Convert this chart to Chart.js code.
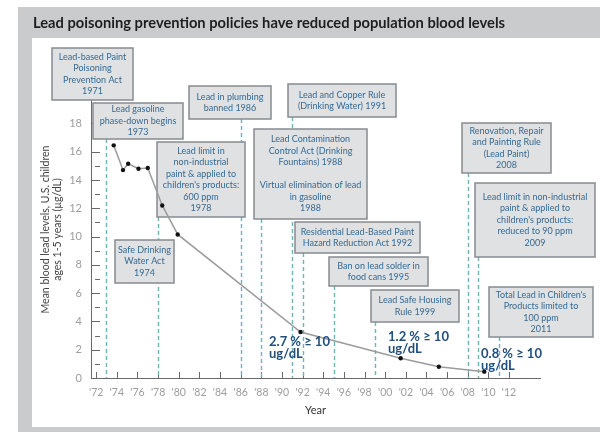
<!DOCTYPE html>
<html>
<head>
<meta charset="utf-8">
<script src="https://cdn.jsdelivr.net/npm/chart.js@4.4.0/dist/chart.umd.min.js"></script>
<style>
  html, body { margin: 0; padding: 0; background: #fff; }
  #wrap { width: 600px; height: 432px; }
</style>
</head>
<body>
<div id="wrap"><canvas id="leadChart" width="600" height="432"></canvas></div>
<script>
// Mean blood lead level of U.S. children (ug/dL)
const surveyYears = [1973.7, 1974.6, 1975.1, 1976.1, 1977.0, 1978.4, 1979.9, 1991.8, 2001.5, 2005.2, 2009.6];
const bloodLead   = [16.45, 14.7, 15.15, 14.8, 14.85, 12.2, 10.15, 3.25, 1.4, 0.8, 0.45];

// Axis ticks
const xTickYears  = [1972, 1974, 1976, 1978, 1980, 1982, 1984, 1986, 1988, 1990, 1992,
                     1994, 1996, 1998, 2000, 2002, 2004, 2006, 2008, 2010, 2012];
const xTickLabels = ["'72", "'74", "'76", "'78", "'80", "'82", "'84", "'86", "'88", "'90", "'92",
                     "'94", "'96", "'98", "'00", "'02", "'04", "'06", "'08", "'10", "'12"];
const yTickValues = [0, 2, 4, 6, 8, 10, 12, 14, 16, 18];
const yMinorTicks = [1, 3, 5, 7, 9, 11, 13, 15, 17];

// Policy notes (text only)
const policyNotes = [
    ['Lead-based Paint', 'Poisoning', 'Prevention Act', '1971'],
    ['Lead gasoline', 'phase-down begins', '1973'],
    ['Lead in plumbing', 'banned 1986'],
    ['Lead and Copper Rule', '(Drinking Water) 1991'],
    ['Lead limit in', 'non-industrial', 'paint & applied to', "children's products:", '600 ppm', '1978'],
    ['Lead Contamination', 'Control Act (Drinking', 'Fountains) 1988', '', 'Virtual elimination of lead', 'in gasoline', '1988'],
    ['Residential Lead-Based Paint', 'Hazard Reduction Act 1992'],
    ['Ban on lead solder in', 'food cans 1995'],
    ['Lead Safe Housing', 'Rule 1999'],
    ['Safe Drinking', 'Water Act', '1974'],
    ['Renovation, Repair', 'and Painting Rule', '(Lead Paint)', '2008'],
    ['Lead limit in non-industrial', 'paint & applied to', "children's products:", 'reduced to 90 ppm', '2009'],
    ["Total Lead in Children's", 'Products limited to', '100 ppm', '2011']
];
// Years that get a dashed marker line, and the note each one hangs from
const policyYears = [1973, 1978, 1986, 1988, 1991, 1992, 1995, 1999, 2008, 2009, 2011];
const policyNoteOf = [1, 4, 2, 5, 3, 6, 7, 8, 10, 11, 12];

// Share of children at or above 10 ug/dL
const rateNotes = [['2.7 % \u2265 10', 'ug/dL'], ['1.2 % \u2265 10', 'ug/dL'], ['0.8 % \u2265 10', 'ug/dL']];

const titleText = 'Lead poisoning prevention policies have reduced population blood levels';

// Layout of the note boxes (pixels on the canvas)
const noteBoxes = [
    { x: 52,  y: 48,  w: 81,  h: 52 },
    { x: 93,  y: 103, w: 90,  h: 36 },
    { x: 189, y: 86,  w: 82,  h: 33 },
    { x: 288, y: 84,  w: 108, h: 33 },
    { x: 157, y: 142, w: 88,  h: 75 },
    { x: 254, y: 129, w: 113, h: 90 },
    { x: 295, y: 222, w: 125, h: 31 },
    { x: 329, y: 257, w: 99,  h: 29 },
    { x: 371, y: 290, w: 88,  h: 32 },
    { x: 115, y: 240, w: 59,  h: 43 },
    { x: 462, y: 123, w: 89,  h: 50 },
    { x: 475, y: 183, w: 120, h: 74 },
    { x: 489, y: 287, w: 104, h: 50 }
];
const rateSpots = [{ x: 269, y: 342 }, { x: 388, y: 337 }, { x: 481, y: 354 }];

const colors = {
    frame: '#c9cbcd',
    title: '#1e1e1e',
    boxFill: '#dfe1e3',
    boxEdge: '#868b91',
    boxText: '#356a93',
    dash: '#6fb2b7',
    axis: '#6a6a6a',
    tickLabel: '#9d9d9d',
    line: '#9c9c9c',
    rate: '#214f7e'
};

// Frame, title band, tick marks, marker lines and note boxes
const decorPlugin = {
    id: 'decor',
    beforeDraw(chart) {
        const ctx = chart.ctx;
        ctx.save();
        ctx.fillStyle = '#ffffff';
        ctx.fillRect(0, 0, 600, 432);
        ctx.fillStyle = colors.frame;
        ctx.fillRect(18, 7, 582, 425);
        ctx.fillStyle = '#ffffff';
        ctx.fillRect(32, 38, 568, 389);
        ctx.fillStyle = colors.title;
        ctx.font = 'bold 15px Lato';
        ctx.textBaseline = 'alphabetic';
        ctx.textAlign = 'left';
        ctx.fillText(titleText, 33, 28, 472);
        ctx.restore();
    },
    beforeDatasetsDraw(chart) {
        const ctx = chart.ctx;
        const xs = chart.scales.x, ys = chart.scales.y;
        const ca = chart.chartArea;
        ctx.save();

        // tick marks inside the plot
        ctx.strokeStyle = colors.axis;
        ctx.lineWidth = 1;
        ctx.beginPath();
        xTickYears.forEach(v => {
            const px = Math.round(xs.getPixelForValue(v)) + 0.5;
            ctx.moveTo(px, ca.bottom);
            ctx.lineTo(px, ca.bottom - 6);
        });
        yTickValues.forEach(v => {
            const py = Math.round(ys.getPixelForValue(v)) + 0.5;
            ctx.moveTo(ca.left, py);
            ctx.lineTo(ca.left + 9, py);
        });
        yMinorTicks.forEach(v => {
            const py = Math.round(ys.getPixelForValue(v)) + 0.5;
            ctx.moveTo(ca.left + 4, py);
            ctx.lineTo(ca.left + 9, py);
        });
        ctx.stroke();

        // dashed policy lines
        ctx.strokeStyle = colors.dash;
        ctx.lineWidth = 1.4;
        ctx.setLineDash([4, 3]);
        policyYears.forEach((yr, i) => {
            const box = noteBoxes[policyNoteOf[i]];
            const px = Math.round(xs.getPixelForValue(yr)) + 0.5;
            ctx.beginPath();
            ctx.moveTo(px, box.y + box.h);
            ctx.lineTo(px, ca.bottom);
            ctx.stroke();
        });
        ctx.setLineDash([]);

        // note boxes
        ctx.textAlign = 'center';
        ctx.textBaseline = 'middle';
        ctx.font = '9px Lato';
        policyNotes.forEach((lines, i) => {
            const b = noteBoxes[i];
            ctx.fillStyle = colors.boxFill;
            ctx.fillRect(b.x, b.y, b.w, b.h);
            ctx.strokeStyle = colors.boxEdge;
            ctx.lineWidth = 1.5;
            ctx.strokeRect(b.x, b.y, b.w, b.h);
            ctx.fillStyle = colors.boxText;
            const lh = 11.5;
            const y0 = b.y + b.h / 2 - (lines.length - 1) * lh / 2;
            lines.forEach((t, j) => ctx.fillText(t, b.x + b.w / 2, y0 + j * lh, b.w - 4));
        });
        ctx.restore();
    },
    afterDatasetsDraw(chart) {
        const ctx = chart.ctx;
        ctx.save();
        ctx.fillStyle = colors.rate;
        ctx.font = 'bold 13px Lato';
        ctx.textAlign = 'left';
        ctx.textBaseline = 'middle';
        rateNotes.forEach((lines, i) => {
            const s = rateSpots[i];
            lines.forEach((t, j) => ctx.fillText(t, s.x, s.y + j * 12));
        });
        ctx.restore();
    }
};

new Chart(document.getElementById('leadChart').getContext('2d'), {
    type: 'line',
    data: {
        datasets: [{
            label: 'Mean blood lead',
            data: surveyYears.map((yr, i) => ({ x: yr, y: bloodLead[i] })),
            borderColor: colors.line,
            borderWidth: 1.5,
            tension: 0,
            fill: false,
            pointRadius: 2.2,
            pointBackgroundColor: '#111',
            pointBorderWidth: 0
        }]
    },
    options: {
        responsive: false,
        animation: false,
        layout: { padding: { left: 0, right: 60, top: 81, bottom: 0 } },
        plugins: {
            legend: { display: false },
            tooltip: { enabled: false }
        },
        scales: {
            x: {
                type: 'linear',
                min: 1971.5,
                max: 2015,
                afterBuildTicks: s => { s.ticks = xTickYears.map(v => ({ value: v })); },
                afterFit: s => { s.height = 54; },
                grid: { display: false, drawTicks: false },
                border: { display: true, color: colors.axis, width: 1 },
                ticks: {
                    callback: (v, i) => xTickLabels[i],
                    color: colors.tickLabel,
                    font: { family: 'Lato', size: 10.5 },
                    padding: 8,
                    maxRotation: 0,
                    autoSkip: false
                },
                title: {
                    display: true,
                    text: 'Year',
                    color: '#333',
                    font: { family: 'Lato', size: 11 },
                    padding: { top: 0, bottom: 15 }
                }
            },
            y: {
                min: 0,
                max: 21,
                afterBuildTicks: s => { s.ticks = yTickValues.map(v => ({ value: v })); },
                afterFit: s => { s.width = 91; },
                grid: { display: false, drawTicks: false },
                border: { display: true, color: colors.axis, width: 1 },
                ticks: {
                    color: colors.tickLabel,
                    font: { family: 'Lato', size: 11 },
                    padding: 9
                },
                title: {
                    display: true,
                    text: ['Mean blood lead levels, U.S. children', 'ages 1-5 years (\u00b5g/dL)'],
                    color: '#444',
                    font: { family: 'Lato', size: 10.5 },
                    padding: { top: 39, bottom: 0 }
                }
            }
        }
    },
    plugins: [decorPlugin]
});
</script>
</body>
</html>
